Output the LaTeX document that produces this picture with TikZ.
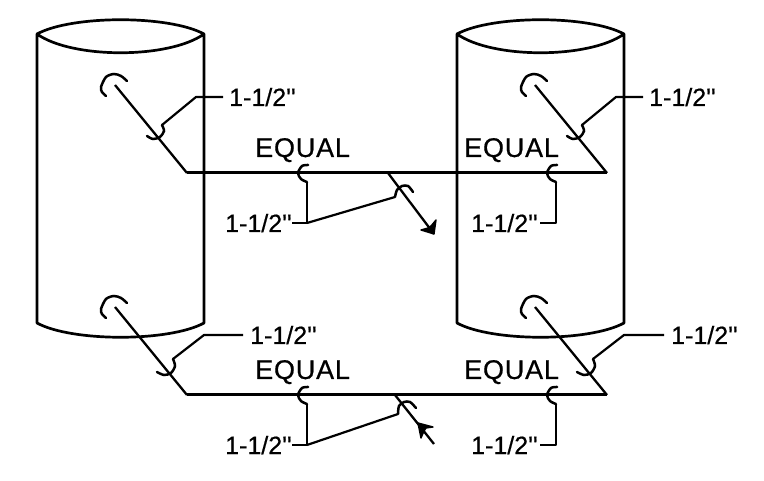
\documentclass[tikz,border=0pt]{standalone}
\usepackage{fontspec}
\newfontfamily\labfont[FakeBold=0.6]{Liberation Sans}
\newfontfamily\eqfont[FakeBold=0.6,LetterSpace=3]{Liberation Sans}
\tikzset{
  cyl/.style={line width=2.7pt,line join=round},
  main/.style={line width=3pt,line join=miter},
  thinslant/.style={line width=2.3pt},
  lead/.style={line width=2.2pt,line join=round},
  hookline/.style={line width=2.5pt,line cap=round},
  dim/.style={font=\labfont\fontsize{25}{25}\selectfont,anchor=base west,inner sep=0pt},
  eq/.style={font=\eqfont\fontsize{27}{27}\selectfont,anchor=base west,inner sep=0pt},
  tip/.style={fill=black,draw=black,line width=1.4pt,line join=round}
}
\begin{document}
\begin{tikzpicture}[x=1pt,y=-1pt]
\useasboundingbox (0,0) rectangle (764,481);
% cylinders
\foreach \dx in {0,420}{
\begin{scope}[shift={(\dx,0)}]
  \draw[cyl] (37,34) .. controls (72,15) and (169,15) .. (204,34)
     .. controls (169,59) and (72,59) .. (37,34) -- (37,323)
     .. controls (72,342) and (169,342) .. (204,323) -- (204,34);
  % large hooks
  \draw[hookline] plot[smooth] coordinates {(127,81) (121,76) (114,74) (106,77) (101,87) (102,92) (106,96)};
  \draw[hookline] plot[smooth] coordinates {(127,303) (121,298) (114,296) (106,299) (101,309) (102,314) (106,318)};
  % small hooks on the slants
  \draw[hookline] plot[smooth] coordinates {(162,125) (164,131) (160,137) (153,139) (147,136)};
  \draw[hookline] plot[smooth] coordinates {(173,359) (175,366) (171,373) (164,375) (157,372)};
\end{scope}}
% hooks on the horizontal lines
\foreach \dx in {0,249}{
\begin{scope}[shift={(\dx,0)}]
  \draw[hookline] plot[smooth] coordinates {(308,165) (302,166) (298,173) (301,179) (307,182)};
  \draw[hookline] plot[smooth] coordinates {(308,387) (302,388) (298,395) (301,401) (307,404)};
\end{scope}}
% upper assembly
\coordinate (ta) at (115,85);
\coordinate (tb) at (187,173);
\coordinate (tc) at (607,173);
\coordinate (td) at (535,85);
\draw[main] (tb) -- (tc);
\draw[thinslant] (ta) -- (tb);
\draw[thinslant] (td) -- (tc);
% lower assembly
\coordinate (ba) at (115,307);
\coordinate (bb) at (187,395);
\coordinate (bc) at (607,395);
\coordinate (bd) at (535,307);
\draw[main] (bb) -- (bc);
\draw[thinslant] (ba) -- (bb);
\draw[thinslant] (bd) -- (bc);
% labels
\node[dim] (l1) at (229,106) {1-1/2''};
\node[dim] (l2) at (649,106) {1-1/2''};
\node[dim] (l3) at (250,344) {1-1/2''};
\node[dim] (l4) at (671,344) {1-1/2''};
\node[dim] (l5) at (225,232) {1-1/2''};
\node[dim] (l6) at (471,232) {1-1/2''};
\node[dim] (l7) at (225,454) {1-1/2''};
\node[dim] (l8) at (471,454) {1-1/2''};
\node[eq] (e1) at (255,157) {EQUAL};
\node[eq] (e2) at (464,157) {EQUAL};
\node[eq] (e3) at (255,379) {EQUAL};
\node[eq] (e4) at (464,379) {EQUAL};
% leaders to slants
\coordinate (s1) at (162,125);
\coordinate (s2) at (582,125);
\coordinate (s3) at (173,359);
\coordinate (s4) at (593,359);
\draw[lead] (s1) -- (196,97) -- ([xshift=-6pt,yshift=9pt]l1.base west);
\draw[lead] (s2) -- (616,97) -- ([xshift=-6pt,yshift=9pt]l2.base west);
\draw[lead] (s3) -- (204,335) -- ([xshift=-7pt,yshift=9pt]l3.base west);
\draw[lead] (s4) -- (624,335) -- ([xshift=-7pt,yshift=9pt]l4.base west);
% leaders to horizontal lines, upper
\coordinate (h1) at (307,182);
\coordinate (h2) at (556,182);
\coordinate (k1) at (307,223);
\coordinate (k2) at (556,223);
\coordinate (q1) at (395,197);
\draw[lead] (h1) -- (k1) -- (292,223);
\draw[lead] (k1) -- (q1);
\draw[lead] (h2) -- (k2) -- (540,223);
% leaders to horizontal lines, lower
\coordinate (h3) at (307,404);
\coordinate (h4) at (556,404);
\coordinate (k3) at (307,445);
\coordinate (k4) at (556,445);
\coordinate (q2) at (398,414);
\draw[lead] (h3) -- (k3) -- (292,445);
\draw[lead] (k3) -- (q2);
\draw[lead] (h4) -- (k4) -- (540,445);
% hooks on the arrows
\draw[hookline] plot[smooth] coordinates {(395,197) (397,190) (402,186) (408,186) (413,192)};
\draw[hookline] plot[smooth] coordinates {(398,414) (399,406) (404,402) (410,402) (416,408)};
% arrows
\coordinate (a1) at (388,173);
\coordinate (a2) at (434,234);
\draw[thinslant] (a1) -- (a2);
\fill[tip] (a2) -- (421,230) -- (428,228) -- (431,226) -- (436,220) -- cycle;
\coordinate (a3) at (395,395);
\coordinate (a4) at (434,444);
\draw[thinslant] (a3) -- (a4);
\fill[tip] (418,423) -- (433,427) -- (426,428) -- (424,431) -- (421,438) -- cycle;
\end{tikzpicture}
\end{document}
